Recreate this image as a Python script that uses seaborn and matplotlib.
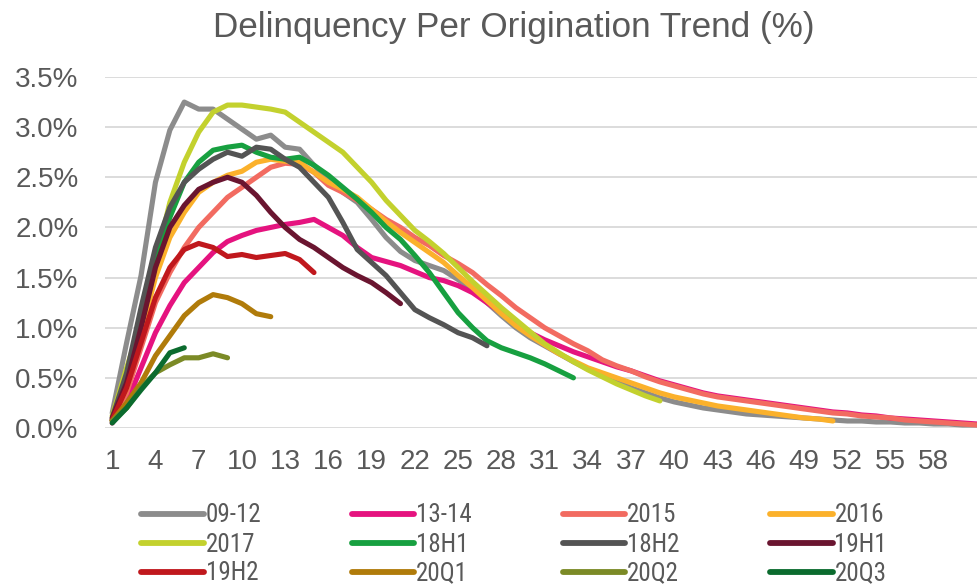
import numpy as np
import pandas as pd
import matplotlib
matplotlib.use("Agg")
import matplotlib.pyplot as plt
import seaborn as sns
from matplotlib.lines import Line2D

# cohorts in legend / drawing order (later ones drawn on top)
cohorts = ["09-12", "13-14", "2015", "2016", "2017", "18H1",
           "18H2", "19H1", "19H2", "20Q1", "20Q2", "20Q3"]
colors = ["#8c8c8c", "#e5137f", "#f26b61", "#fbb12b", "#c3d12e", "#17a040",
          "#545454", "#6a1530", "#c0181d", "#b07b0a", "#7b8a26", "#0b6b2e"]

# delinquency rate (%) by month on book
rate_09_12 = [0.15, 0.85, 1.52, 2.45, 2.97, 3.25, 3.18, 3.18, 3.08, 2.98,
              2.88, 2.92, 2.80, 2.78, 2.62, 2.48, 2.35, 2.25, 2.08, 1.90,
              1.76, 1.67, 1.62, 1.57, 1.48, 1.38, 1.25, 1.12, 1.00, 0.90,
              0.82, 0.74, 0.66, 0.59, 0.52, 0.46, 0.40, 0.35, 0.30, 0.26,
              0.23, 0.20, 0.18, 0.16, 0.14, 0.13, 0.12, 0.11, 0.10, 0.09,
              0.08, 0.07, 0.07, 0.06, 0.06, 0.05, 0.05, 0.04, 0.04, 0.03, 0.03]
rate_13_14 = [0.05, 0.25, 0.60, 0.95, 1.22, 1.45, 1.60, 1.75, 1.86, 1.92,
              1.97, 2.00, 2.03, 2.05, 2.08, 2.00, 1.92, 1.80, 1.70, 1.66,
              1.62, 1.56, 1.50, 1.47, 1.42, 1.35, 1.25, 1.15, 1.05, 0.95,
              0.88, 0.82, 0.76, 0.71, 0.66, 0.61, 0.57, 0.52, 0.47, 0.43,
              0.39, 0.35, 0.32, 0.30, 0.28, 0.26, 0.24, 0.22, 0.20, 0.18,
              0.16, 0.15, 0.13, 0.12, 0.10, 0.09, 0.08, 0.07, 0.06, 0.05, 0.04]
rate_2015 = [0.08, 0.35, 0.80, 1.25, 1.55, 1.80, 2.00, 2.15, 2.30, 2.40,
             2.50, 2.60, 2.64, 2.63, 2.55, 2.42, 2.35, 2.27, 2.18, 2.08,
             2.00, 1.90, 1.82, 1.72, 1.64, 1.55, 1.43, 1.32, 1.20, 1.10,
             1.00, 0.92, 0.84, 0.77, 0.68, 0.62, 0.57, 0.51, 0.46, 0.42,
             0.38, 0.34, 0.31, 0.29, 0.27, 0.25, 0.23, 0.21, 0.19, 0.17,
             0.15, 0.14, 0.12, 0.11, 0.10, 0.08, 0.07, 0.06, 0.05, 0.04, 0.03]
rate_2016 = [0.08, 0.40, 0.95, 1.50, 1.90, 2.15, 2.35, 2.45, 2.52, 2.56,
             2.65, 2.68, 2.66, 2.65, 2.55, 2.45, 2.38, 2.30, 2.18, 2.06,
             1.95, 1.85, 1.75, 1.65, 1.52, 1.40, 1.27, 1.14, 1.02, 0.92,
             0.83, 0.74, 0.67, 0.60, 0.55, 0.50, 0.45, 0.40, 0.35, 0.31,
             0.28, 0.25, 0.22, 0.20, 0.18, 0.16, 0.14, 0.12, 0.10, 0.09, 0.07]
rate_2017 = [0.12, 0.60, 1.05, 1.66, 2.25, 2.65, 2.95, 3.15, 3.22, 3.22,
             3.20, 3.18, 3.15, 3.05, 2.95, 2.85, 2.75, 2.60, 2.45, 2.27,
             2.12, 1.97, 1.86, 1.74, 1.60, 1.46, 1.33, 1.20, 1.08, 0.96,
             0.84, 0.75, 0.66, 0.58, 0.51, 0.44, 0.38, 0.32, 0.27]
rate_18h1 = [0.08, 0.45, 1.05, 1.65, 2.10, 2.45, 2.65, 2.77, 2.80, 2.82,
             2.75, 2.70, 2.68, 2.70, 2.62, 2.52, 2.40, 2.28, 2.15, 2.00,
             1.88, 1.72, 1.55, 1.35, 1.15, 1.00, 0.87, 0.80, 0.75, 0.70,
             0.64, 0.57, 0.50]
rate_18h2 = [0.10, 0.55, 1.20, 1.80, 2.20, 2.45, 2.58, 2.68, 2.75, 2.71,
             2.80, 2.78, 2.68, 2.60, 2.45, 2.30, 2.05, 1.78, 1.65, 1.52,
             1.35, 1.18, 1.10, 1.03, 0.95, 0.90, 0.82]
rate_19h1 = [0.10, 0.45, 1.00, 1.60, 2.00, 2.22, 2.38, 2.45, 2.50, 2.45,
             2.32, 2.15, 2.00, 1.88, 1.80, 1.70, 1.60, 1.52, 1.45, 1.35, 1.24]
rate_19h2 = [0.08, 0.40, 0.85, 1.30, 1.60, 1.78, 1.84, 1.80, 1.71, 1.73,
             1.70, 1.72, 1.74, 1.68, 1.55]
rate_20q1 = [0.07, 0.25, 0.45, 0.72, 0.92, 1.12, 1.25, 1.33, 1.30, 1.24,
             1.14, 1.11]
rate_20q2 = [0.07, 0.20, 0.40, 0.55, 0.63, 0.70, 0.70, 0.74, 0.70]
rate_20q3 = [0.05, 0.20, 0.38, 0.55, 0.75, 0.80]

series = [rate_09_12, rate_13_14, rate_2015, rate_2016, rate_2017, rate_18h1,
          rate_18h2, rate_19h1, rate_19h2, rate_20q1, rate_20q2, rate_20q3]

x_ticks = list(range(1, 59, 3))
y_ticks = [0.0, 0.5, 1.0, 1.5, 2.0, 2.5, 3.0, 3.5]

# long table for seaborn
rows = []
for name, vals in zip(cohorts, series):
    for m, v in enumerate(vals, start=1):
        rows.append({"cohort": name, "month": m, "rate": v})
df = pd.DataFrame(rows)

sns.set_theme(style="white")
plt.rcParams["font.family"] = ["Liberation Sans", "DejaVu Sans"]
plt.rcParams["lines.solid_capstyle"] = "round"
plt.rcParams["lines.solid_joinstyle"] = "round"

text_grey = "#595959"
fig = plt.figure(figsize=(9.77, 5.84), dpi=100)
ax = fig.add_axes([105 / 977, 1 - 428 / 584, 1 - 105 / 977, (428 - 77) / 584])

sns.lineplot(data=df, x="month", y="rate", hue="cohort", hue_order=cohorts,
             palette=colors, linewidth=3.7, sort=False, legend=False, ax=ax)

ax.set_xlim(0.5, 61.0)
ax.set_ylim(0, 3.5)
ax.set_xticks(x_ticks)
ax.set_yticks(y_ticks)
ax.set_yticklabels([f"{t:.1f}%" for t in y_ticks])
ax.tick_params(axis="both", length=0, labelsize=20, colors=text_grey)
ax.tick_params(axis="x", pad=15)
ax.tick_params(axis="y", pad=19)
ax.yaxis.grid(True, color="#d9d9d9", linewidth=1.3)
ax.set_axisbelow(True)
ax.set_xlabel("")
ax.set_ylabel("")
for s in ax.spines.values():
    s.set_visible(False)

fig.text(514 / 977, 1 - 27 / 584, "Delinquency Per Origination Trend (%)",
         ha="center", va="center", fontsize=25.3, color=text_grey)

# legend laid out row by row like the original (matplotlib fills by column)
handles = [Line2D([0], [0], color=c, linewidth=4.2, solid_capstyle="round")
           for c in colors]
order = [0, 4, 8, 1, 5, 9, 2, 6, 10, 3, 7, 11]
leg = fig.legend([handles[i] for i in order], [cohorts[i] for i in order],
                 ncol=4, loc="upper left",
                 bbox_to_anchor=(141 / 977, 1 - 503.5 / 584),
                 frameon=False, borderpad=0, borderaxespad=0,
                 handlelength=2.5, handletextpad=0.08, columnspacing=3.62,
                 labelspacing=0.2,
                 prop={"family": ["Roboto Condensed", "Liberation Sans"],
                       "size": 18})
for t in leg.get_texts():
    t.set_color(text_grey)

fig.savefig("out.png", dpi=100)
